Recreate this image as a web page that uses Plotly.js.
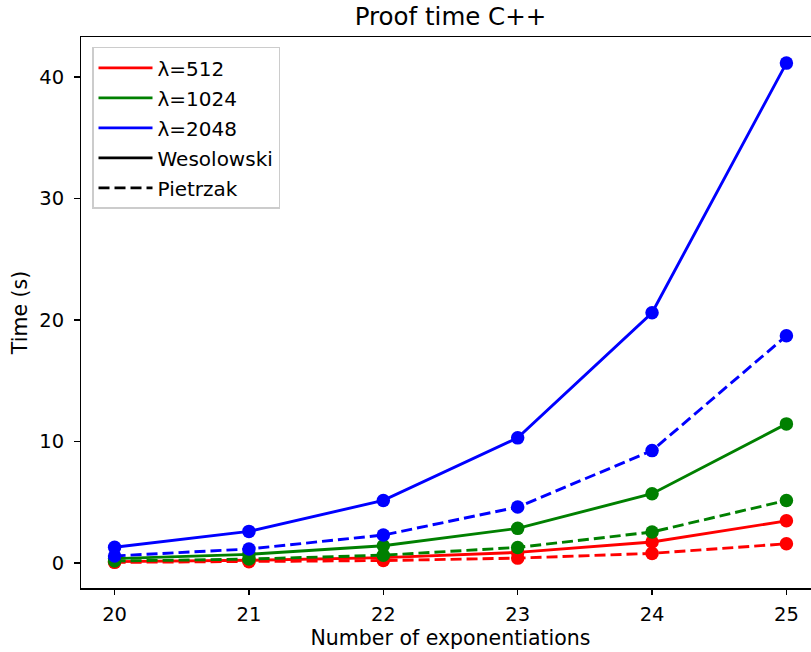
<!DOCTYPE html>
<html><head><meta charset="utf-8">
<script src="https://cdn.plot.ly/plotly-3.0.1.min.js"></script>
<style>html,body{margin:0;padding:0;overflow:hidden;background:#fff}</style>
</head><body><div id="chart"></div>
<script>
const exps = [20, 21, 22, 23, 24, 25];
const wes512 = [0.11, 0.22, 0.44, 0.87, 1.73, 3.47];
const pie512 = [0.05, 0.10, 0.20, 0.40, 0.79, 1.58];
const wes1024 = [0.36, 0.71, 1.42, 2.85, 5.70, 11.45];
const pie1024 = [0.16, 0.32, 0.64, 1.28, 2.55, 5.15];
const wes2048 = [1.30, 2.60, 5.15, 10.30, 20.60, 41.15];
const pie2048 = [0.58, 1.15, 2.30, 4.60, 9.25, 18.70];
const legendNames = ['λ=512', 'λ=1024', 'λ=2048', 'Wesolowski', 'Pietrzak'];

const RED = '#ff0000', GREEN = '#008000', BLUE = '#0000ff';
const DASH = '11px,5px';
function series(y, color, dash) {
  return {x: exps, y: y, mode: 'lines+markers', showlegend: false,
    line: {color: color, width: 2.9, dash: dash},
    marker: {color: color, size: 13.5}};
}
function leg(name, color, dash, i) {
  return {x: [null], y: [null], mode: 'lines', name: name, legendgroup: 'g' + i,
    line: {color: color, width: 2.9, dash: dash}};
}
const data = [
  series(wes512, RED, 'solid'), series(pie512, RED, DASH),
  series(wes1024, GREEN, 'solid'), series(pie1024, GREEN, DASH),
  series(wes2048, BLUE, 'solid'), series(pie2048, BLUE, DASH),
  leg(legendNames[0], RED, 'solid', 0),
  leg(legendNames[1], GREEN, 'solid', 1),
  leg(legendNames[2], BLUE, 'solid', 2),
  leg(legendNames[3], '#000', 'solid', 3),
  leg(legendNames[4], '#000', DASH, 4)
];
const font = {family: 'DejaVu Sans, sans-serif', color: '#000'};
const layout = {
  width: 830, height: 652,
  margin: {l: 81, r: 10, t: 37, b: 64},
  paper_bgcolor: '#fff', plot_bgcolor: '#fff',
  font: Object.assign({size: 19}, font),
  title: {text: 'Proof time C++', font: Object.assign({size: 24.5}, font), x: 0.5, xref: 'paper', y: 0.975, yanchor: 'middle'},
  xaxis: {range: [19.75, 25.25], tickvals: exps, ticks: 'outside', ticklen: 5.5, tickwidth: 1.5, tickcolor: '#000',
    ticklabelstandoff: 3,
    showgrid: false, zeroline: false, showline: true, mirror: true, linecolor: '#000', linewidth: 1.5,
    tickfont: Object.assign({size: 19.5}, font),
    title: {text: 'Number of exponentiations', font: Object.assign({size: 20.5}, font), standoff: 3}},
  yaxis: {range: [-2.06, 43.3], tickvals: [0, 10, 20, 30, 40], ticks: 'outside', ticklen: 5.5, tickwidth: 1.5, tickcolor: '#000',
    ticklabelstandoff: 6,
    showgrid: false, zeroline: false, showline: true, mirror: true, linecolor: '#000', linewidth: 1.5,
    tickfont: Object.assign({size: 19.5}, font),
    title: {text: 'Time (s)', font: Object.assign({size: 20.5}, font), standoff: 6}},
  showlegend: true,
  legend: {x: 0.0149, y: 0.982, xanchor: 'left', yanchor: 'top', bgcolor: 'rgba(255,255,255,0.8)',
    bordercolor: '#cccccc', borderwidth: 1.5, font: Object.assign({size: 20}, font),
    tracegroupgap: 1, itemwidth: 54, traceorder: 'grouped'}
};
Plotly.newPlot('chart', data, layout, {displayModeBar: false, staticPlot: true});
</script></body></html>
